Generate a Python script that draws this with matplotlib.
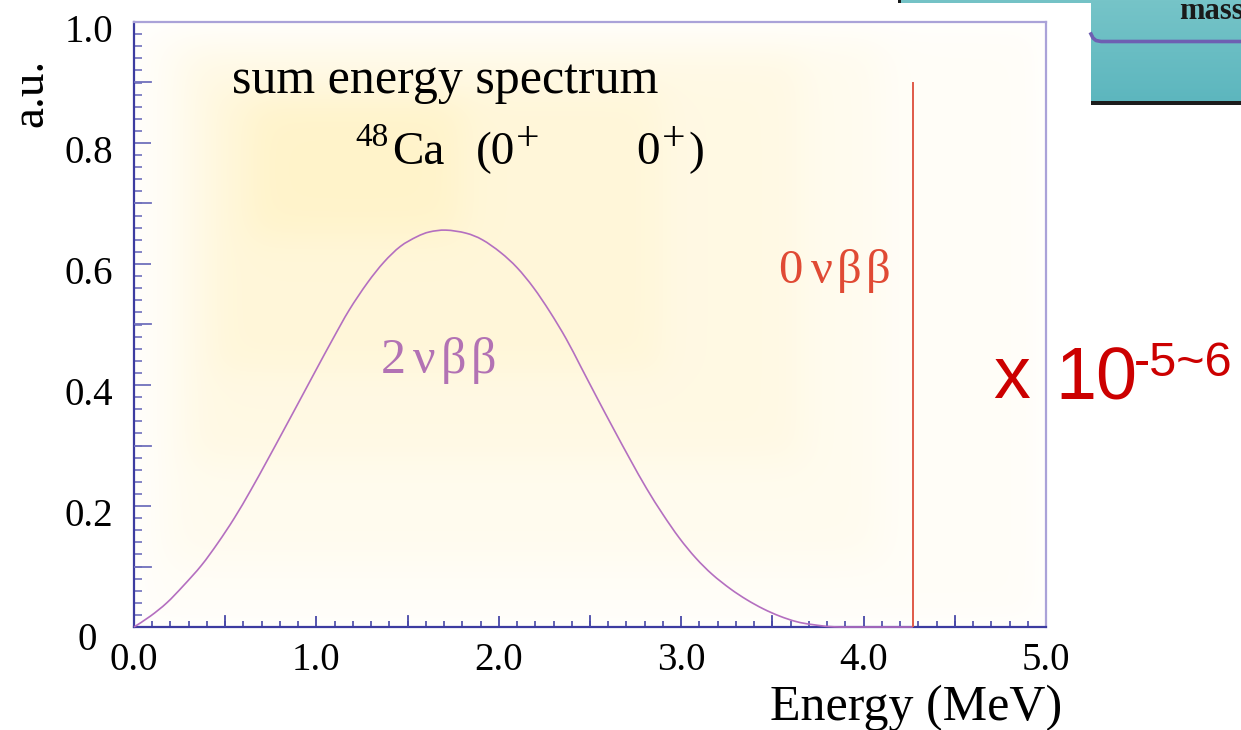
import numpy as np
import matplotlib
matplotlib.use("Agg")
import matplotlib.pyplot as plt
from matplotlib.patches import Rectangle, PathPatch
from matplotlib.path import Path
from matplotlib.transforms import ScaledTranslation
from matplotlib.lines import Line2D

# ---------------- data ----------------
energy_2nu = [0.00, 0.09, 0.18, 0.27, 0.37, 0.46, 0.55, 0.64, 0.73, 0.82,
              0.92, 1.00, 1.09, 1.18, 1.28, 1.37, 1.46, 1.55, 1.62, 1.71,
              1.82, 1.91, 2.01, 2.10, 2.19, 2.28, 2.37, 2.45, 2.54, 2.63,
              2.72, 2.81, 2.90, 2.99, 3.08, 3.17, 3.27, 3.36, 3.45, 3.54,
              3.63, 3.72, 3.87, 4.27]
counts_2nu = [0.000, 0.018, 0.040, 0.068, 0.102, 0.139, 0.180, 0.226, 0.275, 0.325,
              0.381, 0.426, 0.476, 0.524, 0.569, 0.603, 0.629, 0.645, 0.653, 0.656,
              0.651, 0.640, 0.619, 0.594, 0.561, 0.521, 0.476, 0.430, 0.378, 0.327,
              0.277, 0.229, 0.186, 0.147, 0.114, 0.087, 0.063, 0.045, 0.030, 0.018,
              0.009, 0.004, 0.000, 0.000]
q_value = 4.27          # 0nbb line position (MeV)
line_0nu_height = 0.90  # a.u.

x_ticks = [0.0, 1.0, 2.0, 3.0, 4.0, 5.0]
x_tick_labels = ["0.0", "1.0", "2.0", "3.0", "4.0", "5.0"]
y_ticks = [0.0, 0.2, 0.4, 0.6, 0.8, 1.0]
y_tick_labels = ["0", "0.2", "0.4", "0.6", "0.8", "1.0"]

SERIF = "Liberation Serif"
SANS = "Liberation Sans"

W, H = 1241, 730
fig = plt.figure(figsize=(W / 100, H / 100), dpi=100)
fig.patch.set_facecolor("white")

def fx(px):
    return px / W

def fy(py):
    return 1 - py / H

# axes frame (pixels): x 134..1046, y 22..627
L, R, T, B = 134, 1046, 22, 627
ax = fig.add_axes([fx(L), fy(B), (R - L) / W, (B - T) / H])
ax.set_xlim(0, 5)
ax.set_ylim(0, 1)

# ---------------- soft yellow glow background ----------------
gh, gw = B - T, R - L
yy, xx = np.mgrid[0:gh, 0:gw]
xx = xx + L
yy = yy + T

def soft_box(x0, x1, y0, y1, s):
    fxp = 0.5 * (np.tanh((xx - x0) / s) - np.tanh((xx - x1) / s))
    fyp = 0.5 * (np.tanh((yy - y0) / s) - np.tanh((yy - y1) / s))
    return fxp * fyp

inten = (0.07 * soft_box(140, 1040, 28, 622, 20)
         + 0.09 * soft_box(170, 880, 40, 560, 25)
         + 0.10 * soft_box(190, 800, 55, 460, 22)
         + 0.10 * soft_box(215, 660, 90, 370, 20)
         + 0.14 * soft_box(250, 460, 100, 235, 22))
inten = np.clip(inten, 0, 1)
yellow = np.array([255, 232, 150]) / 255.0
img = np.ones((gh, gw, 3)) * (1 - inten[..., None]) + yellow * inten[..., None]
ax.imshow(img, extent=[0, 5, 0, 1], origin="upper", aspect="auto", zorder=0,
          interpolation="bilinear")

# ---------------- curves ----------------
# smooth rendering of the read points: Catmull-Rom through the points as a cubic Bezier path
pts = np.column_stack([energy_2nu, counts_2nu])
verts = [tuple(pts[0])]
codes = [Path.MOVETO]
n = len(pts)
for i in range(n - 1):
    p0 = pts[i - 1] if i > 0 else pts[i]
    p1 = pts[i]
    p2 = pts[i + 1]
    p3 = pts[i + 2] if i + 2 < n else pts[i + 1]
    c1 = p1 + (p2 - p0) / 6.0
    c2 = p2 - (p3 - p1) / 6.0
    c1[1] = max(c1[1], 0.0)
    c2[1] = max(c2[1], 0.0)
    verts += [tuple(c1), tuple(c2), tuple(p2)]
    codes += [Path.CURVE4, Path.CURVE4, Path.CURVE4]
ax.add_patch(PathPatch(Path(verts, codes), facecolor="none", edgecolor="#b46fc0",
                       lw=1.2, zorder=3, clip_on=False))
ax.plot([q_value, q_value], [0, line_0nu_height], color="#e05a48", lw=1.4, zorder=3)

# ---------------- spines & ticks ----------------
for s in ("left", "bottom"):
    ax.spines[s].set_color("#3c3ca0")
    ax.spines[s].set_linewidth(1.6)
for s in ("top", "right"):
    ax.spines[s].set_color("#aaa2d8")
    ax.spines[s].set_linewidth(1.6)

ax.set_xticks(x_ticks)
ax.set_xticklabels(x_tick_labels)
ax.set_xticks(np.arange(0, 5.01, 0.1), minor=True)
ax.set_yticks(y_ticks)
ax.set_yticklabels(y_tick_labels)
ax.set_yticks(np.arange(0, 1.001, 0.02), minor=True)

ax.tick_params(axis="x", which="major", direction="in", length=8, width=1.3,
               color="#4848a8", pad=11, labelsize=28)
ax.tick_params(axis="x", which="minor", direction="in", length=4.3, width=1.2,
               color="#4848a8")
ax.tick_params(axis="y", which="major", direction="in", length=12.5, width=1.3,
               color="#7070bc", pad=15, labelsize=28)
ax.tick_params(axis="y", which="minor", direction="in", length=6, width=1.2,
               color="#7070bc")
ax.tick_params(top=False, right=False, which="both")

# half-MeV x ticks and 0.1 y ticks drawn as longer marks
for e in np.arange(0.5, 5.0, 1.0):
    ax.add_line(Line2D([e, e], [0, 11 / 605], color="#4848a8", lw=1.3, zorder=4))
for v in np.arange(0.1, 1.0, 0.2):
    ax.add_line(Line2D([0, 17 / 182.4], [v, v], color="#7070bc", lw=1.3, zorder=4))

for lab in ax.get_xticklabels():
    lab.set_fontfamily(SERIF)
for lab in ax.get_yticklabels():
    lab.set_fontfamily(SERIF)
    lab.set_transform(lab.get_transform() + ScaledTranslation(0, -4 / 72, fig.dpi_scale_trans))
ylabs = ax.get_yticklabels()
ylabs[0].set_transform(ylabs[0].get_transform() + ScaledTranslation(-16 / 100, -3 / 100, fig.dpi_scale_trans))

# ---------------- text in the plot (pixel placement helpers) ----------------
def ptext(x, y, s, size, **kw):
    kw.setdefault("family", SERIF)
    kw.setdefault("ha", "left")
    kw.setdefault("va", "baseline")
    fig.text(fx(x), fy(y), s, fontsize=size, zorder=5, **kw)

ptext(232, 93, "sum energy spectrum", 36)
# 48Ca (0+ -> 0+)
ptext(355, 146, "48", 24)
ptext(392, 164, "Ca", 34)
ptext(476, 164, "(0", 34)
ptext(516, 150, "+", 30)
ptext(636, 164, "0", 34)
ptext(662, 150, "+", 30)
ptext(688, 164, ")", 34)

# 0 nu beta beta  (red)
for ch, x in zip(["0", "\u03bd", "\u03b2", "\u03b2"], [778, 811, 837, 866]):
    ptext(x, 283, ch, 35, color="#e04a34")
# 2 nu beta beta  (purple)
for ch, x in zip(["2", "\u03bd", "\u03b2", "\u03b2"], [381, 413, 441, 471]):
    ptext(x, 373, ch, 36, color="#b272b4")

# axis titles
fig.text(fx(31), fy(93), "a.u.", rotation=90, fontsize=34, family=SERIF,
         ha="center", va="center")
ptext(770, 720, "Energy (MeV)", 36)

# x 10^-5~6
ptext(993, 398, "x", 53, family=SANS, color="#cc0000")
ptext(1055, 400, "10", 53, family=SANS, color="#cc0000")
ptext(1134, 376, "-5~6", 35, family=SANS, color="#cc0000")

# ---------------- partial teal slide element (top-right) ----------------
tax = fig.add_axes([fx(1091), fy(104), (W - 1091) / W, 104 / H])
tax.set_axis_off()
grad = np.linspace(0, 1, 100)[:, None]
c0 = np.array([118, 196, 200]) / 255.0
c1 = np.array([92, 182, 190]) / 255.0
timg = c0 * (1 - grad[..., None]) + c1 * grad[..., None]
timg = np.repeat(timg, 10, axis=1)
tax.imshow(timg, extent=[0, 1, 0, 1], aspect="auto", origin="upper")
tax.set_xlim(0, 1)
tax.set_ylim(0, 1)

fig.add_artist(Rectangle((fx(898), fy(3)), (1091 - 898) / W, 3 / H,
                         transform=fig.transFigure, facecolor="#74c2c6", edgecolor="none"))
fig.add_artist(Rectangle((fx(898), fy(3)), 3 / W, 3 / H,
                         transform=fig.transFigure, facecolor="#1a1a1a", edgecolor="none"))
fig.add_artist(Rectangle((fx(1091), fy(105)), (W - 1091) / W, 4 / H,
                         transform=fig.transFigure, facecolor="#1c1c1c", edgecolor="none"))
px_line = [1091, 1093, 1096, 1101, 1108, 1241]
py_line = [34, 38, 40.5, 41.5, 41.5, 41.5]
fig.add_artist(Line2D([fx(p) for p in px_line], [fy(p) for p in py_line],
                      transform=fig.transFigure, color="#6e5fb2", lw=2.6))
ptext(1179, 19, "mass", 22, fontweight="bold", color="#1a1a1a")

fig.savefig("out.png", dpi=100)
